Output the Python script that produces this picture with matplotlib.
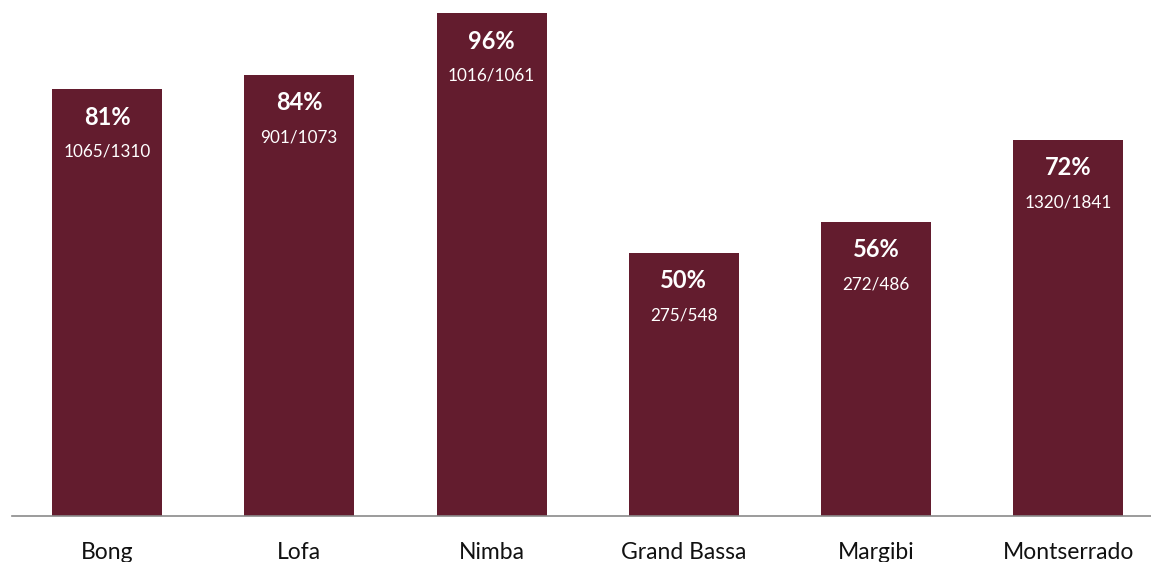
import matplotlib
matplotlib.use("Agg")
import matplotlib.pyplot as plt

plt.rcParams['font.family'] = ['Lato', 'DejaVu Sans']

categories = ["Bong", "Lofa", "Nimba", "Grand Bassa", "Margibi", "Montserrado"]
numerators = [1065, 901, 1016, 275, 272, 1320]
denominators = [1310, 1073, 1061, 548, 486, 1841]
pct_labels = ["81%", "84%", "96%", "50%", "56%", "72%"]

values = [n / d * 100 for n, d in zip(numerators, denominators)]

W, H = 1151, 562
fig = plt.figure(figsize=(W / 100, H / 100), dpi=100)
ax = fig.add_axes([12 / W, 1 - 516 / H, (W - 12) / W, 516 / H])

color = "#631C2E"
x = list(range(len(categories)))
bars = ax.bar(x, values, width=0.572, color=color, zorder=2)

ax.set_xlim(-0.494, 5.43)
ax.set_ylim(0, 98.3)

for xi, v, p, n, d in zip(x, values, pct_labels, numerators, denominators):
    ax.annotate(p, (xi, v), xytext=(0, -20), textcoords="offset points",
                ha="center", va="center", color="white", fontsize=17, fontweight="bold")
    ax.annotate(f"{n}/{d}", (xi, v), xytext=(0, -45), textcoords="offset points",
                ha="center", va="center", color="white", fontsize=12.3)

for s in ["top", "right", "left"]:
    ax.spines[s].set_visible(False)
ax.spines["bottom"].set_color("#8a8a8a")
ax.spines["bottom"].set_linewidth(1.2)
ax.set_yticks([])
ax.set_xticks(x)
ax.set_xticklabels(categories, fontsize=16.5, color="#111111")
ax.tick_params(axis="x", length=0, pad=19)

fig.savefig("out.png", dpi=100)
